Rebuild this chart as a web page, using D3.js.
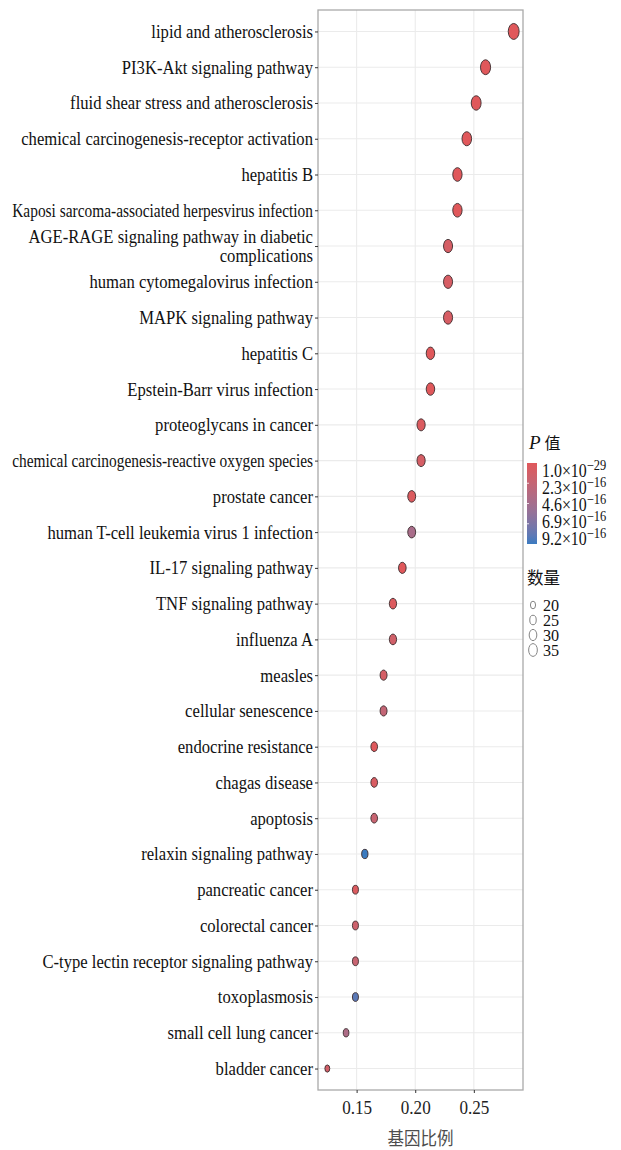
<!DOCTYPE html>
<html>
<head>
<meta charset="utf-8">
<script src="https://cdn.jsdelivr.net/npm/d3@7"></script>
<style>
  body { margin: 0; background: #fff; }
  text { font-family: "Liberation Serif", "Times New Roman", serif; }
</style>
</head>
<body>
<div id="chart"></div>
<script>
//pathway names, top to bottom
var pathways = [
  "lipid and atherosclerosis",
  "PI3K-Akt signaling pathway",
  "fluid shear stress and atherosclerosis",
  "chemical carcinogenesis-receptor activation",
  "hepatitis B",
  "Kaposi sarcoma-associated herpesvirus infection",
  "AGE-RAGE signaling pathway in diabetic\ncomplications",
  "human cytomegalovirus infection",
  "MAPK signaling pathway",
  "hepatitis C",
  "Epstein-Barr virus infection",
  "proteoglycans in cancer",
  "chemical carcinogenesis-reactive oxygen species",
  "prostate cancer",
  "human T-cell leukemia virus 1 infection",
  "IL-17 signaling pathway",
  "TNF signaling pathway",
  "influenza A",
  "measles",
  "cellular senescence",
  "endocrine resistance",
  "chagas disease",
  "apoptosis",
  "relaxin signaling pathway",
  "pancreatic cancer",
  "colorectal cancer",
  "C-type lectin receptor signaling pathway",
  "toxoplasmosis",
  "small cell lung cancer",
  "bladder cancer"
];

//gene ratio (x)
var geneRatio = [0.284, 0.260, 0.252, 0.244, 0.236, 0.236, 0.228, 0.228, 0.228, 0.213,
                 0.213, 0.205, 0.205, 0.197, 0.197, 0.189, 0.181, 0.181, 0.173, 0.173,
                 0.165, 0.165, 0.165, 0.157, 0.149, 0.149, 0.149, 0.149, 0.141, 0.125];

//gene count (size)
var geneCount = [36, 33, 32, 31, 30, 30, 29, 29, 29, 27,
                 27, 26, 26, 25, 25, 24, 23, 23, 22, 22,
                 21, 21, 21, 20, 19, 19, 19, 19, 18, 16];

//p values (colour)
var pValue = [1.0e-29, 3.1e-25, 6.4e-24, 2.2e-22, 4.5e-21, 3.0e-20, 9.0e-17, 8.0e-17, 8.0e-17, 1.2e-19,
              2.5e-19, 4.0e-17, 9.0e-17, 4.0e-17, 4.3e-16, 1.5e-18, 3.0e-17, 1.3e-16, 9.0e-17, 2.4e-16,
              1.0e-17, 6.0e-17, 2.0e-16, 9.2e-16, 4.0e-17, 1.6e-16, 2.0e-16, 8.3e-16, 4.0e-16, 1.2e-16];

//legend breaks
var pBreaks = [1.0e-29, 2.3e-16, 4.6e-16, 6.9e-16, 9.2e-16];
var pBreakLabels = [["1.0", "\u221229"], ["2.3", "\u221216"], ["4.6", "\u221216"], ["6.9", "\u221216"], ["9.2", "\u221216"]];
var countBreaks = [20, 25, 30, 35];
var xTicks = [0.15, 0.20, 0.25];

var data = pathways.map(function(d, i) {
  return {name: d, ratio: geneRatio[i], count: geneCount[i], p: pValue[i]};
});

//dimensions
var W = 621, H = 1150;
var panel = {left: 318, right: 523, top: 10, bottom: 1090};
var squeeze = 0.9;
var labelRoom = 301; //widest label space left of the axis

var svg = d3.select("#chart").append("svg")
  .attr("width", W).attr("height", H);

svg.append("rect").attr("width", W).attr("height", H).attr("fill", "#fff");

//scales
var xMin = d3.min(geneRatio), xMax = d3.max(geneRatio), xPad = (xMax - xMin) * 0.05;
var x = d3.scaleLinear().domain([xMin - xPad, xMax + xPad]).range([panel.left, panel.right]);
var y = d3.scalePoint().domain(pathways).range([panel.top, panel.bottom]).padding(0.6);
var color = d3.scaleLinear().domain([1.0e-29, 9.2e-16]).range(["#e0585b", "#3b7bc0"])
  .interpolate(d3.interpolateLab);
var size = d3.scaleSqrt().domain([16, 36]).range([3.6, 8]);
var aspect = 0.68; //points look squashed horizontally

//grid
var grid = svg.append("g");
grid.selectAll(".gx").data(xTicks).enter().append("line")
  .attr("x1", function(d) { return x(d); }).attr("x2", function(d) { return x(d); })
  .attr("y1", panel.top).attr("y2", panel.bottom)
  .attr("stroke", "#ebebeb").attr("stroke-width", 1.1);
grid.selectAll(".gy").data(pathways).enter().append("line")
  .attr("x1", panel.left).attr("x2", panel.right)
  .attr("y1", function(d) { return y(d); }).attr("y2", function(d) { return y(d); })
  .attr("stroke", "#ebebeb").attr("stroke-width", 1.1);

//points
svg.selectAll(".pt").data(data).enter().append("ellipse")
  .attr("cx", function(d) { return x(d.ratio); })
  .attr("cy", function(d) { return y(d.name); })
  .attr("rx", function(d) { return size(d.count) * aspect; })
  .attr("ry", function(d) { return size(d.count); })
  .attr("fill", function(d) { return color(d.p); })
  .attr("stroke", "#3b2b2e").attr("stroke-width", 0.9);

//panel border
svg.append("rect")
  .attr("x", panel.left).attr("y", panel.top)
  .attr("width", panel.right - panel.left).attr("height", panel.bottom - panel.top)
  .attr("fill", "none").attr("stroke", "#aaaaaa").attr("stroke-width", 1.3);

//y axis
var yAxis = svg.append("g")
  .attr("transform", "translate(" + panel.left + ",0)")
  .call(d3.axisLeft(y).tickSize(3).tickPadding(2));
yAxis.select(".domain").remove();
yAxis.selectAll(".tick line").attr("stroke", "#333");
yAxis.selectAll(".tick text").each(function(d) {
  var t = d3.select(this);
  var lines = d.split("\n");
  t.text(null)
    .attr("dy", null)
    .attr("font-size", 18.5)
    .attr("fill", "#111")
    .style("font-family", "Liberation Serif");
  lines.forEach(function(l, i) {
    t.append("tspan")
      .attr("y", (i - (lines.length - 1) / 2) * 19.5)
      .attr("dy", "0.32em")
      .text(l);
  });
  //squeeze long labels a bit more so they fit
  var len = d3.max(t.selectAll("tspan").nodes(), function(n) { return n.getComputedTextLength(); });
  var s = Math.min(squeeze, labelRoom / len);
  t.attr("transform", "scale(" + s + ",1)");
  t.attr("x", -5 / s);
  t.selectAll("tspan").attr("x", -5 / s);
});

//x axis
var xAxis = svg.append("g")
  .attr("transform", "translate(0," + panel.bottom + ")")
  .call(d3.axisBottom(x).tickValues(xTicks).tickSize(3).tickPadding(8).tickFormat(d3.format(".2f")));
xAxis.select(".domain").remove();
xAxis.selectAll(".tick line").attr("stroke", "#333");
xAxis.selectAll(".tick text")
  .attr("font-size", 19).attr("fill", "#222")
  .style("font-family", "Liberation Serif")
  .attr("transform", "scale(" + squeeze + ",1)")
  .attr("x", 0);

svg.append("text")
  .attr("transform", "translate(" + ((panel.left + panel.right) / 2) + ",1145) scale(0.92,1)")
  .attr("text-anchor", "middle")
  .attr("font-size", 18).attr("fill", "#4d4d4d")
  .style("font-family", "Noto Sans CJK SC")
  .text("基因比例");

//colour legend
var leg = svg.append("g");
var title = leg.append("text")
  .attr("transform", "translate(529,449)")
  .attr("font-size", 19).attr("fill", "#111");
title.append("tspan").attr("font-style", "italic").text("P");
title.append("tspan").attr("dx", 4).style("font-family", "Noto Sans CJK SC").attr("font-size", 16).text("值");

var bar = {x: 527, y0: 463, y1: 544, w: 10};
var defs = svg.append("defs");
var grad = defs.append("linearGradient").attr("id", "pgrad")
  .attr("x1", 0).attr("y1", 0).attr("x2", 0).attr("y2", 1);
d3.range(0, 1.0001, 0.1).forEach(function(t) {
  grad.append("stop").attr("offset", t)
    .attr("stop-color", color(1.0e-29 + t * (9.2e-16 - 1.0e-29)));
});
leg.append("rect")
  .attr("x", bar.x).attr("y", bar.y0).attr("width", bar.w).attr("height", bar.y1 - bar.y0)
  .attr("fill", "url(#pgrad)");
var barScale = d3.scaleLinear().domain([1.0e-29, 9.2e-16]).range([bar.y0, bar.y1]);
leg.selectAll(".btick").data(pBreaks.slice(1, 4)).enter().append("line")
  .attr("x1", bar.x).attr("x2", bar.x + 2)
  .attr("y1", function(d) { return barScale(d); }).attr("y2", function(d) { return barScale(d); })
  .attr("stroke", "#fff").attr("stroke-width", 0.8);
var labScale = d3.scaleLinear().domain([1.0e-29, 9.2e-16]).range([471, 539]);
pBreakLabels.forEach(function(l, i) {
  var t = leg.append("text")
    .attr("transform", "translate(542," + (labScale(pBreaks[i]) + 6) + ") scale(0.86,1)")
    .attr("font-size", 18.5).attr("fill", "#111");
  t.append("tspan").text(l[0] + "\u00d710");
  t.append("tspan").attr("font-size", 14.5).attr("dy", -7).text(l[1]);
});

//size legend
leg.append("text")
  .attr("transform", "translate(527,584)")
  .attr("font-size", 16.5).attr("fill", "#111")
  .style("font-family", "Noto Sans CJK SC")
  .text("数量");
var sizeY = d3.scalePoint().domain(countBreaks).range([605, 650]);
leg.selectAll(".sz").data(countBreaks).enter().append("ellipse")
  .attr("cx", 533).attr("cy", function(d) { return sizeY(d); })
  .attr("rx", function(d) { return size(d) * 0.82 * aspect; })
  .attr("ry", function(d) { return size(d) * 0.82; })
  .attr("fill", "#fff").attr("stroke", "#777").attr("stroke-width", 0.9);
leg.selectAll(".szl").data(countBreaks).enter().append("text")
  .attr("transform", function(d) { return "translate(543," + (sizeY(d) + 5.5) + ") scale(0.95,1)"; })
  .attr("font-size", 17).attr("fill", "#111")
  .text(function(d) { return d; });
</script>
</body>
</html>
